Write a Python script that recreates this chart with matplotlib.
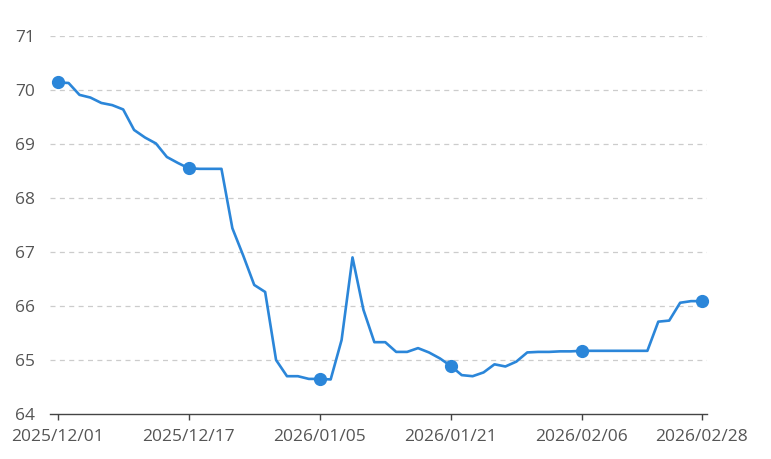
import pandas as pd
import matplotlib
matplotlib.use("Agg")
from matplotlib import pyplot as plt

# trading days shown on the category axis
dates = list(pd.bdate_range("2025-12-01", "2026-02-06").drop(pd.Timestamp("2026-01-01")))
dates += list(pd.to_datetime(["2026-02-09", "2026-02-10", "2026-02-11", "2026-02-12", "2026-02-13",
                              "2026-02-23", "2026-02-24", "2026-02-25", "2026-02-26", "2026-02-27",
                              "2026-02-28"]))
date_labels = [d.strftime("%Y/%m/%d") for d in dates]

values = [
    70.14, 70.13, 69.91, 69.86, 69.76, 69.72, 69.64, 69.26, 69.12, 69.01,
    68.76, 68.65, 68.55, 68.54, 68.54, 68.54, 67.44, 66.93, 66.39, 66.26,
    65.00, 64.70, 64.70, 64.65, 64.65, 64.64, 65.37, 66.90, 65.93, 65.33,
    65.33, 65.15, 65.15, 65.22, 65.14, 65.03, 64.89, 64.72, 64.70, 64.77,
    64.92, 64.88, 64.97, 65.14, 65.15, 65.15, 65.16, 65.16, 65.17, 65.17,
    65.17, 65.17, 65.17, 65.17, 65.17, 65.71, 65.73, 66.06, 66.09, 66.09,
]

label_idx = [0, 12, 24, 36, 48, 59]
y_ticks = [64, 65, 66, 67, 68, 69, 70, 71]

plt.rcParams['font.family'] = ['Open Sans', 'DejaVu Sans']

fig = plt.figure(figsize=(7.71, 4.59), dpi=100)
ax = fig.add_axes([50 / 771, 45 / 459, 657 / 771, 378 / 459])

x = list(range(len(values)))
color = "#2b86d9"
ax.plot(x, values, color=color, lw=1.9, solid_joinstyle="round", zorder=3)
ax.plot([x[i] for i in label_idx], [values[i] for i in label_idx], "o",
        color=color, ms=8.5, zorder=4, clip_on=False)

ax.set_xlim(-0.7, len(values) - 1 + 0.46)
ax.set_ylim(64, 71)
ax.set_yticks(y_ticks)
ax.set_xticks(label_idx)
ax.set_xticklabels([date_labels[i] for i in label_idx])

for v in y_ticks[1:]:
    ax.axhline(v, color="#cccccc", lw=0.9, ls=(0, (4, 3.5)), zorder=1)

for s in ["top", "right", "left"]:
    ax.spines[s].set_visible(False)
ax.spines["bottom"].set_color("#444444")
ax.spines["bottom"].set_linewidth(1.0)

ax.tick_params(axis="y", length=0, pad=11, labelsize=12.5, labelcolor="#555555")
ax.tick_params(axis="x", length=4, width=1, color="#444444", pad=7,
               labelsize=12.5, labelcolor="#555555")

fig.savefig("out.png", dpi=100)
